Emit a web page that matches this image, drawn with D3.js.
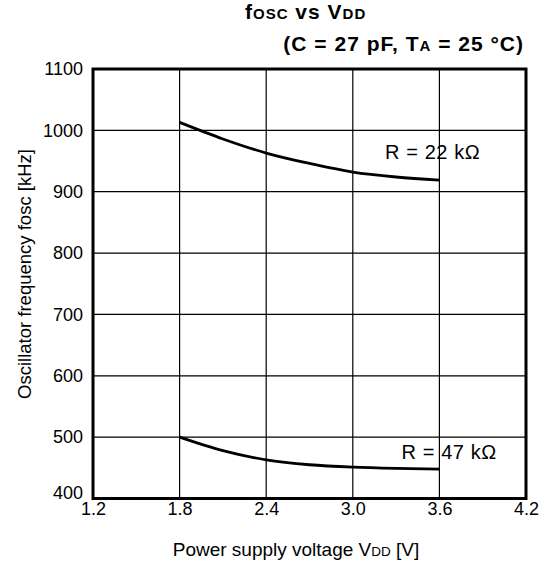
<!DOCTYPE html>
<html>
<head>
<meta charset="utf-8">
<script src="https://cdn.jsdelivr.net/npm/d3@7"></script>
<style>
  body { margin: 0; background: #fff; }
  text { font-family: "Liberation Sans", Arial, sans-serif; fill: #000; }
</style>
</head>
<body>
<svg id="chart"></svg>
<script>
// data
const vdd = [1.8, 2.1, 2.4, 2.7, 3.0, 3.3, 3.6];
const fosc22k = [1013, 986, 963, 946, 932, 924, 919];
const fosc47k = [500, 478, 463, 455, 451, 449, 448];
const xTicks = [1.2, 1.8, 2.4, 3.0, 3.6, 4.2];
const yTicks = [400, 500, 600, 700, 800, 900, 1000, 1100];

const width = 555, height = 569;
const margin = { top: 69, right: 29, bottom: 70.5, left: 93 };
const w = width - margin.left - margin.right;
const h = height - margin.top - margin.bottom;

const svg = d3.select('#chart')
    .attr('width', width)
    .attr('height', height);

const chart = svg.append('g')
    .attr('transform', `translate(${margin.left},${margin.top})`);

const x = d3.scaleLinear().domain([1.2, 4.2]).range([0, w]);
const y = d3.scaleLinear().domain([400, 1100]).range([h, 0]);

// grid
chart.append('g')
    .selectAll('line')
    .data(xTicks.slice(1, -1))
    .join('line')
    .attr('x1', d => x(d)).attr('x2', d => x(d))
    .attr('y1', 0).attr('y2', h)
    .attr('stroke', '#000').attr('stroke-width', 1.2);

chart.append('g')
    .selectAll('line')
    .data(yTicks.slice(1, -1))
    .join('line')
    .attr('x1', 0).attr('x2', w)
    .attr('y1', d => y(d)).attr('y2', d => y(d))
    .attr('stroke', '#000').attr('stroke-width', 1.2);

// axes (labels only)
const xAxis = d3.axisBottom(x).tickValues(xTicks).tickFormat(d3.format('.1f')).tickSize(0).tickPadding(3.5);
const yAxis = d3.axisLeft(y).tickValues(yTicks).tickFormat(d3.format('d')).tickSize(0).tickPadding(10);

const xAxisG = chart.append('g').attr('transform', `translate(0,${h})`).call(xAxis);
const yAxisG = chart.append('g').call(yAxis);
[xAxisG, yAxisG].forEach(g => {
    g.select('.domain').remove();
    g.selectAll('text')
        .attr('font-size', '18px')
        .attr('font-family', '"Liberation Sans", Arial, sans-serif')
        .attr('fill', '#000');
});
// bottom y label sits a little higher so it clears the x labels
yAxisG.selectAll('.tick text').filter(d => d === 400).attr('dy', '0.0em');

// frame
chart.append('rect')
    .attr('width', w).attr('height', h)
    .attr('fill', 'none')
    .attr('stroke', '#000')
    .attr('stroke-width', 3);

// curves
const line = d3.line()
    .x((d, i) => x(vdd[i]))
    .y(d => y(d))
    .curve(d3.curveMonotoneX);

[fosc22k, fosc47k].forEach(s => {
    chart.append('path')
        .datum(s)
        .attr('d', line)
        .attr('fill', 'none')
        .attr('stroke', '#000')
        .attr('stroke-width', 2.8);
});

svg.append('text')
    .attr('x', 385).attr('y', 159)
    .attr('font-size', '20px')
    .attr('letter-spacing', '0.6px')
    .text('R = 22 kΩ');

svg.append('text')
    .attr('x', 401.5).attr('y', 459)
    .attr('font-size', '20px')
    .attr('letter-spacing', '0.6px')
    .text('R = 47 kΩ');

// titles
const t1 = svg.append('text')
    .attr('x', 245).attr('y', 18.5)
    .attr('font-size', '21px')
    .attr('letter-spacing', '1px')
    .attr('font-weight', 'bold');
t1.append('tspan').text('f');
t1.append('tspan').attr('font-size', '15px').text('OSC');
t1.append('tspan').text(' vs V');
t1.append('tspan').attr('font-size', '15px').text('DD');

const t2 = svg.append('text')
    .attr('x', 524).attr('y', 50.5)
    .attr('text-anchor', 'end')
    .attr('font-size', '21px')
    .attr('letter-spacing', '1px')
    .attr('font-weight', 'bold');
t2.append('tspan').text('(C = 27 pF, T');
t2.append('tspan').attr('font-size', '15px').text('A');
t2.append('tspan').text(' = 25 °C)');

const xl = svg.append('text')
    .attr('x', 296).attr('y', 556)
    .attr('text-anchor', 'middle')
    .attr('font-size', '19px');
xl.append('tspan').text('Power supply voltage V');
xl.append('tspan').attr('font-size', '13.5px').text('DD');
xl.append('tspan').text(' [V]');

svg.append('text')
    .attr('transform', 'translate(31,274) rotate(-90)')
    .attr('text-anchor', 'middle')
    .attr('font-size', '18.5px')
    .text('Oscillator frequency fosc [kHz]');
</script>
</body>
</html>
